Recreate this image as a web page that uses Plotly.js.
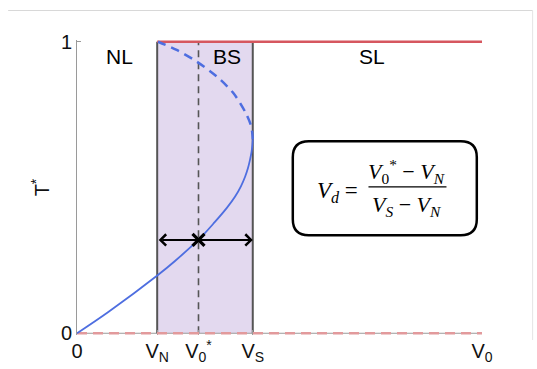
<!DOCTYPE html>
<html>
<head>
<meta charset="utf-8">
<script src="https://cdn.plot.ly/plotly-3.0.1.min.js"></script>
<style>
  html, body { margin: 0; padding: 0; background: #fff; }
  #chart { width: 537px; height: 369px; }
</style>
</head>
<body>
<div id="chart"></div>
<script>
// ---- data ----
const V_N = 1.98;
const V0_star = 3.0;
const V_S = 4.34;
const V0_max = 10;

// stable (lower, solid) branch of T* vs V0
const stableX = [0, 0.773, 1.99, 2.42, 2.995, 3.40, 3.70, 3.90, 4.05, 4.15, 4.22, 4.27, 4.31, 4.33, 4.34];
const stableT = [0, 0.073, 0.199, 0.248, 0.32, 0.381, 0.430, 0.468, 0.505, 0.537, 0.566, 0.594, 0.622, 0.646, 0.665];

// unstable (upper, dashed) branch
const unstableX = [4.34, 4.325, 4.29, 4.15, 3.86, 3.45, 2.955, 2.46, 2.0];
const unstableT = [0.665, 0.69, 0.715, 0.76, 0.824, 0.881, 0.932, 0.972, 1.0];

// upper red branch (T* = 1 from V_N onward) and lower red dashed branch (T* = 0)
const upperX = [V_N, V0_max];
const upperT = [1, 1];
const lowerX = [0, V0_max];
const lowerT = [0, 0];

// marker / arrow level
const markerT = 0.32;

// tick labels
const tickVals = [0, V_N, V0_star, V_S, V0_max];
const tickText = ['0', 'V<sub>N</sub>', 'V<sub>0</sub><sup>*</sup>', 'V<sub>S</sub>', 'V<sub>0</sub>'];
const yTickVals = [0, 1];
const yTickText = ['0', '1'];

// region labels
const regionLabels = ['NL', 'BS', 'SL'];
const regionX = [1.04, 3.71, 7.28];
const regionT = [0.95, 0.95, 0.95];

const FONT = 'Liberation Sans, Arial, Helvetica, sans-serif';
const SERIF = 'Liberation Serif, DejaVu Serif, serif';
const BLUE = '#4e6ee0';
const RED = '#d6575f';
const RED_LIGHT = '#e29a9c';
const GRAYLINE = '#555555';
const AXIS = '#9a9a9a';
const yPad = 0.006;

const traces = [
  { x: lowerX, y: lowerT, mode: 'lines', line: { color: RED_LIGHT, width: 2.5, dash: '10px,6px' }, hoverinfo: 'skip' },
  { x: upperX, y: upperT, mode: 'lines', line: { color: RED, width: 2.5 }, hoverinfo: 'skip' },
  { x: stableX, y: stableT, mode: 'lines', line: { color: BLUE, width: 1.8, shape: 'spline', smoothing: 1 }, hoverinfo: 'skip' },
  { x: unstableX, y: unstableT, mode: 'lines', line: { color: BLUE, width: 2.5, dash: '9px,6px', shape: 'spline', smoothing: 0.8 }, hoverinfo: 'skip' },
  { x: [V0_star], y: [markerT], mode: 'markers', marker: { symbol: 'x-thin', size: 12, color: '#000', line: { width: 3.2, color: '#000' } }, cliponaxis: false, hoverinfo: 'skip' }
];

const annotations = regionLabels.map((t, i) => ({
  x: regionX[i], y: regionT[i], xref: 'x', yref: 'y', text: t, showarrow: false,
  font: { family: FONT, size: 21, color: '#000' }
}));

// double-headed arrow between V_N and V_S
annotations.push({
  x: V_S, y: markerT, ax: V_N, ay: markerT, xref: 'x', yref: 'y', axref: 'x', ayref: 'y',
  text: '', showarrow: true, arrowside: 'end+start', arrowhead: 4, startarrowhead: 4,
  arrowsize: 1.1, startarrowsize: 1.1, arrowwidth: 2, arrowcolor: '#000', standoff: 0, startstandoff: 0
});

// equation
annotations.push(
  { x: 6.42, y: 0.483, xref: 'x', yref: 'y', showarrow: false,
    text: '<i>V</i><sub><i>d</i></sub> =', font: { family: SERIF, size: 23, color: '#000' } },
  { x: 8.14, y: 0.555, xref: 'x', yref: 'y', showarrow: false,
    text: '<i>V</i><sub>0</sub><sup>*</sup> − <i>V</i><sub><i>N</i></sub>', font: { family: SERIF, size: 22, color: '#000' } },
  { x: 8.14, y: 0.437, xref: 'x', yref: 'y', showarrow: false,
    text: '<i>V</i><sub><i>S</i></sub> − <i>V</i><sub><i>N</i></sub>', font: { family: SERIF, size: 22, color: '#000' } }
);

const shapes = [
  // bistable band
  { type: 'rect', xref: 'x', yref: 'y', x0: V_N, x1: V_S, y0: 0, y1: 1, fillcolor: '#e3d9ef', line: { width: 0 }, layer: 'below' },
  // x axis line at T* = 0
  { type: 'line', xref: 'x', yref: 'y', x0: 0, x1: V0_max, y0: 0, y1: 0, line: { color: AXIS, width: 1 }, layer: 'below' },
  { type: 'line', xref: 'x', yref: 'y', x0: V_N, x1: V_N, y0: 0, y1: 1, line: { color: GRAYLINE, width: 2 }, layer: 'below' },
  { type: 'line', xref: 'x', yref: 'y', x0: V_S, x1: V_S, y0: 0, y1: 1, line: { color: GRAYLINE, width: 2 }, layer: 'below' },
  { type: 'line', xref: 'x', yref: 'y', x0: V0_star, x1: V0_star, y0: 0, y1: 1, line: { color: GRAYLINE, width: 1.6, dash: '7px,5px' }, layer: 'below' },
  // equation box
  { type: 'path', xref: 'x', yref: 'y', xsizemode: 'pixel', ysizemode: 'pixel', xanchor: 7.6, yanchor: 0.497,
    path: 'M -76,-47 L 76,-47 Q 92,-47 92,-31 L 92,31 Q 92,47 76,47 L -76,47 Q -92,47 -92,31 L -92,-31 Q -92,-47 -76,-47 Z',
    line: { color: '#000', width: 2.5 }, fillcolor: '#fff', layer: 'above' },
  // fraction bar
  { type: 'line', xref: 'x', yref: 'y', xsizemode: 'pixel', xanchor: 8.16, x0: -39, x1: 39, y0: 0.502, y1: 0.502,
    line: { color: '#000', width: 1.3 }, layer: 'above' },
  // faint outer frame (top and right)
  { type: 'line', xref: 'paper', yref: 'paper', x0: -0.170, x1: 1.125, y0: 1.1, y1: 1.1, line: { color: '#d8d8d8', width: 1 } },
  { type: 'line', xref: 'paper', yref: 'paper', x0: 1.125, x1: 1.125, y0: 1.1, y1: -0.017, line: { color: '#e4e4e4', width: 1 } }
];

const layout = {
  width: 537, height: 369,
  margin: { l: 77, r: 55, t: 42 - 291 * yPad, b: 36 - 291 * yPad, pad: 0 },
  paper_bgcolor: '#fff', plot_bgcolor: '#fff',
  showlegend: false,
  font: { family: FONT, color: '#111' },
  xaxis: {
    range: [0, V0_max], showgrid: false, zeroline: false, showline: false,
    ticks: 'inside', ticklen: 5, tickcolor: AXIS, tickvals: tickVals, ticktext: tickText,
    tickfont: { family: FONT, size: 20, color: '#111' }, layer: 'below traces', fixedrange: true, ticklabelstandoff: 2
  },
  yaxis: {
    range: [-yPad, 1 + yPad], showgrid: false, zeroline: false, showline: true, linecolor: AXIS, linewidth: 1,
    ticks: 'inside', ticklen: 4, tickcolor: AXIS, tickvals: yTickVals, ticktext: yTickText,
    tickfont: { family: FONT, size: 20, color: '#111' }, layer: 'below traces', fixedrange: true,
    title: { text: 'T<sup>*</sup>', font: { family: FONT, size: 20, color: '#111' }, standoff: 5 }
  },
  shapes: shapes,
  annotations: annotations
};

Plotly.newPlot('chart', traces, layout, { displayModeBar: false, staticPlot: true });
</script>
</body>
</html>
